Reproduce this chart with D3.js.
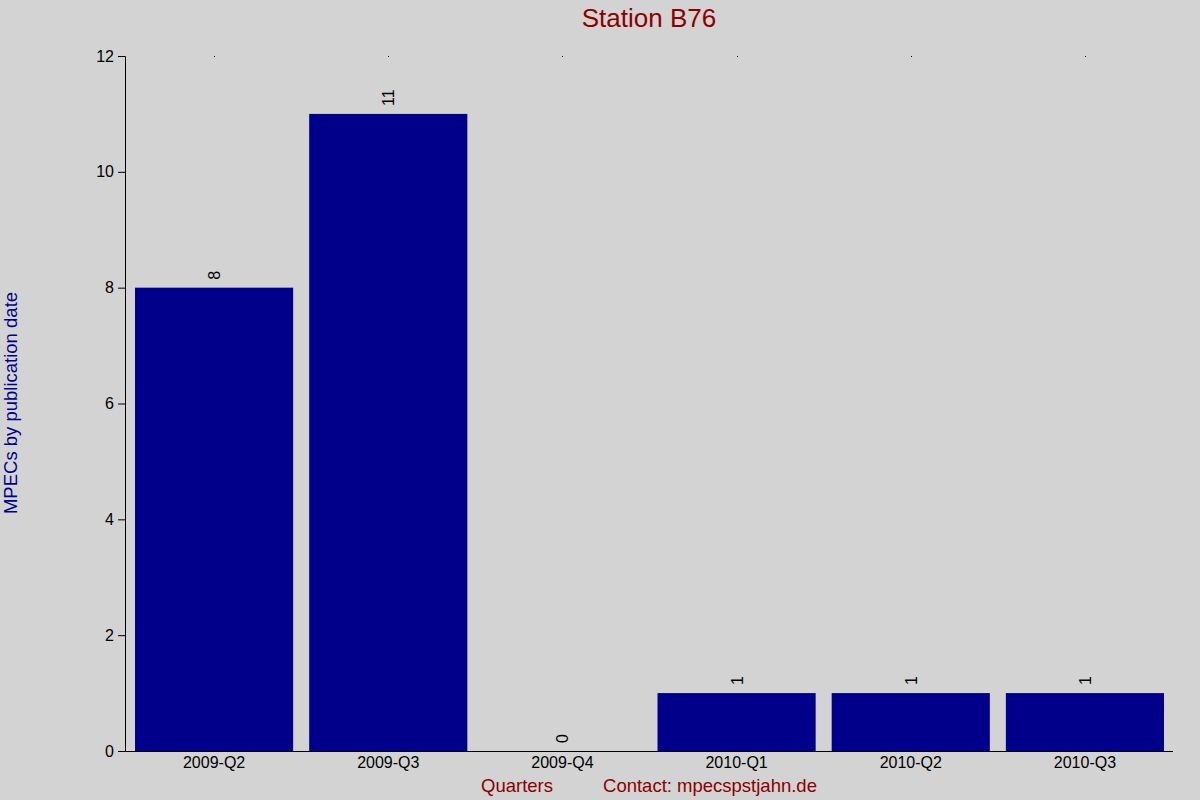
<!DOCTYPE html>
<html>
<head>
<meta charset="utf-8">
<script src="https://cdn.jsdelivr.net/npm/d3@7"></script>
<style>
  body { margin: 0; background: #d3d3d3; }
  svg { display: block; font-family: "Liberation Sans", Arial, sans-serif; }
</style>
</head>
<body>
<div id="plot"></div>
<script>
const quarters = ["2009-Q2", "2009-Q3", "2009-Q4", "2010-Q1", "2010-Q2", "2010-Q3"];
const counts = [8, 11, 0, 1, 1, 1];
const yTicks = [0, 2, 4, 6, 8, 10, 12];

const width = 1200;
const height = 800;

const svg = d3.select("#plot").append("svg")
    .attr("width", width)
    .attr("height", height);

svg.append("rect")
    .attr("width", width)
    .attr("height", height)
    .attr("fill", "#d3d3d3");

// scales
const xScale = d3.scaleBand()
    .domain(quarters)
    .range([127, 1172])
    .paddingInner(0.092)
    .paddingOuter(0.046);

const yScale = d3.scaleLinear()
    .domain([0, 12])
    .range([751, 56]);

// bars
svg.selectAll("rect.bar")
    .data(quarters)
    .enter()
    .append("rect")
    .attr("class", "bar")
    .attr("x", d => xScale(d))
    .attr("y", (d, i) => yScale(counts[i]))
    .attr("width", xScale.bandwidth())
    .attr("height", (d, i) => yScale(0) - yScale(counts[i]))
    .attr("fill", "#00008b");

// value labels, rotated
svg.selectAll("text.val")
    .data(quarters)
    .enter()
    .append("text")
    .attr("class", "val")
    .attr("transform", (d, i) => `translate(${xScale(d) + xScale.bandwidth() / 2 + 6}, ${yScale(counts[i]) - 8}) rotate(-90)`)
    .attr("font-size", 16)
    .attr("fill", "#000")
    .text((d, i) => counts[i]);

// y axis
const yAxis = d3.axisLeft(yScale).tickValues(yTicks).tickSize(7).tickPadding(4);
const gy = svg.append("g")
    .attr("transform", "translate(125, 0)")
    .call(yAxis);
gy.select(".domain").attr("stroke", "#000");
gy.selectAll("text").attr("font-size", 16).attr("font-family", "Liberation Sans, Arial, sans-serif");

// x axis
const xAxis = d3.axisBottom(xScale).tickSize(0).tickPadding(6);
const gx = svg.append("g")
    .attr("transform", "translate(0, 751)")
    .call(xAxis);
gx.select(".domain").attr("d", "M125,0.5H1173");
gx.selectAll("text").attr("font-size", 16).attr("font-family", "Liberation Sans, Arial, sans-serif");

// small top ticks
svg.selectAll("rect.topTick")
    .data(quarters)
    .enter()
    .append("rect")
    .attr("class", "topTick")
    .attr("x", d => Math.round(xScale(d) + xScale.bandwidth() / 2))
    .attr("y", 56)
    .attr("width", 1)
    .attr("height", 1)
    .attr("fill", "#000");

// title
svg.append("text")
    .attr("x", 649)
    .attr("y", 27)
    .attr("text-anchor", "middle")
    .attr("font-size", 26)
    .attr("fill", "#8b0000")
    .text("Station B76");

// y label
svg.append("text")
    .attr("transform", "translate(17, 403) rotate(-90)")
    .attr("text-anchor", "middle")
    .attr("font-size", 18.5)
    .attr("fill", "#00008b")
    .text("MPECs by publication date");

// x label and contact
svg.append("text")
    .attr("x", 517)
    .attr("y", 792)
    .attr("text-anchor", "middle")
    .attr("font-size", 18.5)
    .attr("fill", "#8b0000")
    .text("Quarters");

svg.append("text")
    .attr("x", 710)
    .attr("y", 792)
    .attr("text-anchor", "middle")
    .attr("font-size", 18.5)
    .attr("fill", "#8b0000")
    .text("Contact: mpecspstjahn.de");
</script>
</body>
</html>
